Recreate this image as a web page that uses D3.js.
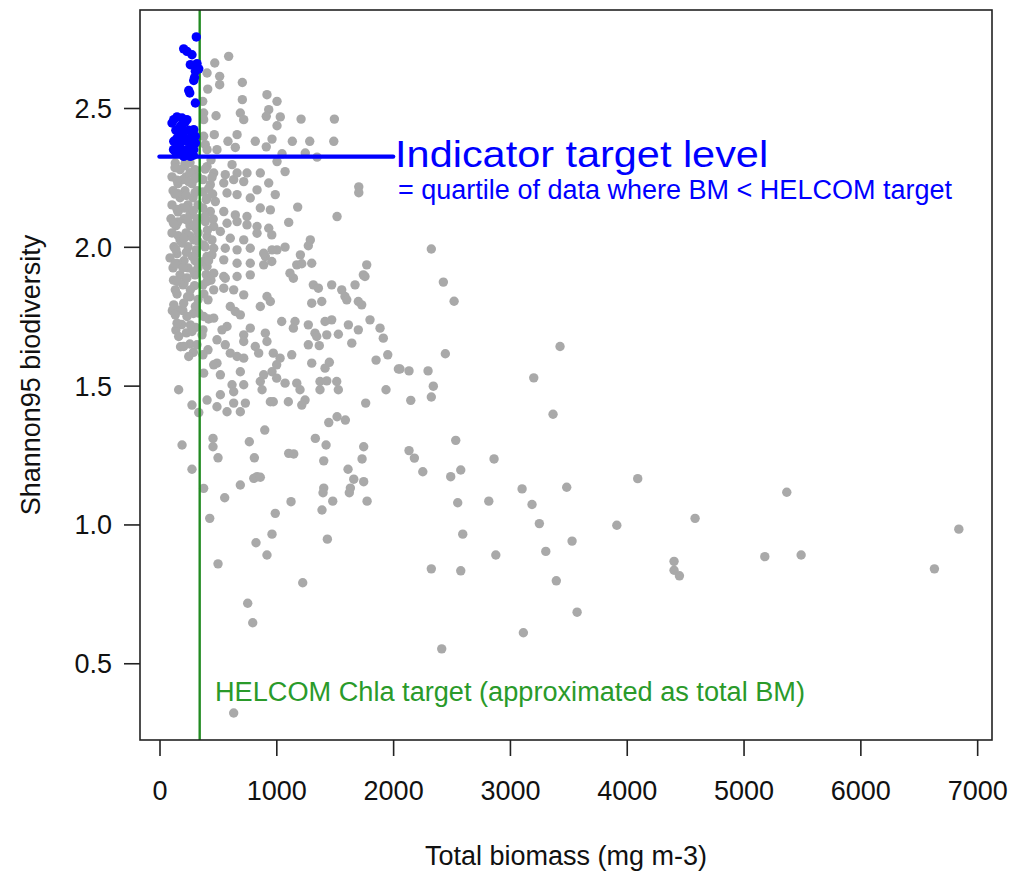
<!DOCTYPE html>
<html>
<head>
<meta charset="utf-8">
<script src="https://cdn.jsdelivr.net/npm/d3@7"></script>
<style>
  html, body { margin: 0; padding: 0; background: #ffffff; }
  svg { display: block; }
  text { font-family: "Liberation Sans", Arial, sans-serif; }
</style>
</head>
<body>
<svg id="chart" width="1020" height="875"></svg>
<script>
// ---------------- data ----------------
const xTicks = [0, 1000, 2000, 3000, 4000, 5000, 6000, 7000];
const yTicks = [0.5, 1.0, 1.5, 2.0, 2.5];
const xTickLabels = ["0", "1000", "2000", "3000", "4000", "5000", "6000", "7000"];
const yTickLabels = ["0.5", "1.0", "1.5", "2.0", "2.5"];

const helcomTarget = 344;       // total biomass (mg m-3)
const indicatorLevel = 2.325;   // Shannon95
const indicatorLineEnd = 2000;

const xLabel = "Total biomass (mg m-3)";
const yLabel = "Shannon95 biodiversity";
const indicatorTitle = "Indicator target level";
const indicatorNote = "= quartile of data where BM < HELCOM target";
const helcomNote = "HELCOM Chla target (approximated as total BM)";

// [total biomass, Shannon95] for all samples
const grayPoints = [
[592,2.686],[473,2.662],[407,2.626],[515,2.614],[515,2.584],[709,2.592],[413,2.568],[709,2.530],[920,2.548],[1006,2.524],[370,2.524],[935,2.494],[914,2.470],[1034,2.468],[1006,2.436],[692,2.482],[721,2.458],[484,2.472],[378,2.482],[378,2.458],[1212,2.460],[1497,2.460],[469,2.404],[664,2.404],[586,2.380],[649,2.358],[820,2.380],[914,2.360],[963,2.388],[1137,2.380],[1286,2.380],[1492,2.380],[378,2.398],[392,2.368],[407,2.350],[492,2.350],
[1049,2.335],[1248,2.338],[1349,2.323],[1006,2.307],[135,2.302],[1075,2.271],[863,2.266],[749,2.266],[621,2.296],[635,2.242],[721,2.235],[991,2.188],[1183,2.143],[1520,2.109],[1706,2.216],[1706,2.195],[1106,2.088],[1291,2.025],[1206,1.971],[1006,1.989],[906,1.965],
[407,2.289],[464,2.266],[563,2.260],[664,2.266],[935,2.230],[435,2.224],[550,2.230],[835,2.205],[407,2.176],[478,2.163],[578,2.194],[664,2.188],[777,2.176],[863,2.140],[949,2.133],[435,2.127],[550,2.127],[649,2.115],[749,2.109],[392,2.091],[464,2.073],[578,2.085],[664,2.091],[749,2.079],[835,2.073],[835,2.049],[935,2.067],[407,2.037],[521,2.055],[606,2.031],[721,2.025],[378,2.007],[464,1.995],[563,1.995],[664,1.989],[777,1.995],[892,1.977],[963,1.989],[407,1.965],[550,1.953],[664,1.941],[777,1.941],[892,1.935],[407,1.929],[464,1.905],[550,1.893],[664,1.893],[777,1.899],
[176,2.278],[304,2.278],[107,2.252],[227,2.252],[330,2.252],[158,2.227],[278,2.227],[116,2.202],[218,2.202],[321,2.202],[176,2.177],[287,2.177],[107,2.151],[244,2.151],[330,2.151],[158,2.126],[278,2.126],[98,2.101],[210,2.101],[321,2.101],[141,2.076],[261,2.076],[107,2.050],[227,2.050],[330,2.050],[176,2.025],[295,2.025],[124,2.000],[244,2.000],[150,1.975],[313,1.975],[210,1.950],[304,1.950],[116,1.924],[244,1.924],[176,1.899],[304,1.899],[261,2.303],
[218,2.292],[261,2.267],[201,2.242],[158,2.191],[193,2.140],[261,2.115],[158,2.090],[313,2.065],[261,2.039],[193,2.014],[313,1.989],[90,1.960],[158,1.939],[295,1.910],[201,1.863],[261,1.820],[176,1.773],
[372,2.242],[372,2.198],[441,2.313],[372,2.140],[449,2.025],[372,1.946],[449,1.971],[372,1.863],[415,1.809],[372,1.701],[415,1.629],[372,1.611],
[133,2.285],[218,2.300],[390,2.280],[449,2.250],[150,2.240],[250,2.235],[304,2.245],[420,2.210],[133,2.190],[230,2.185],[304,2.195],[400,2.170],[455,2.190],
[150,2.135],[218,2.140],[290,2.130],[390,2.110],[120,2.085],[240,2.095],[300,2.080],[410,2.060],[460,2.100],[160,2.040],[210,2.030],[330,2.020],[390,2.000],
[140,1.990],[230,1.980],[280,1.965],[420,1.950],[133,1.940],[200,1.925],[330,1.925],[400,1.900],[120,1.880],[210,1.870],[300,1.860],[440,1.880],
[150,1.830],[240,1.820],[330,1.810],[380,1.830],[110,1.770],[200,1.770],[290,1.760],[420,1.740],[190,1.720],[310,1.710],[140,1.700],[230,1.690],[180,1.640],[260,1.650],[290,1.620],
[150,1.875],[235,1.888],[135,1.845],[264,1.845],[122,1.791],[207,1.797],[307,1.785],[135,1.755],[235,1.749],[336,1.761],[150,1.725],[264,1.719],[164,1.677],[278,1.695],[207,1.641],[250,1.605],[321,1.647],[164,1.485],[278,1.430],[364,1.683],
[407,1.875],[464,1.845],[563,1.887],[635,1.845],[721,1.827],[550,1.851],[920,1.821],[863,1.785],[949,1.803],[606,1.785],[649,1.767],[378,1.749],[464,1.743],[578,1.713],[535,1.701],[692,1.755],[777,1.707],[721,1.683],[721,1.659],[906,1.689],[920,1.659],[492,1.665],[563,1.647],[606,1.617],[664,1.605],[721,1.599],[820,1.641],[849,1.617],[492,1.581],[464,1.575],[378,1.545],[521,1.539],[692,1.550],[892,1.539],[963,1.550],[863,1.515],[621,1.503],[721,1.503],[635,1.478],[878,1.485],[407,1.448],[521,1.467],[635,1.437],[735,1.437],[949,1.442],[578,1.406],[692,1.406],
[1146,1.887],[1317,1.863],[1360,1.851],[1474,1.863],[1560,1.845],[1674,1.863],[1759,1.893],[1303,1.797],[1389,1.803],[1588,1.821],[1603,1.809],[1702,1.803],[1731,1.791],[1046,1.731],[1160,1.731],[1146,1.707],[1274,1.719],[1417,1.731],[1474,1.737],[1617,1.719],[1702,1.701],[1802,1.737],[1888,1.707],[1916,1.671],[1331,1.689],[1346,1.677],[1432,1.683],[1531,1.685],[1646,1.653],[1274,1.647],[1368,1.644],[974,1.617],[1032,1.599],[1132,1.611],[1003,1.575],[1303,1.581],[1417,1.563],[1454,1.584],[1854,1.592],[1954,1.611],[2045,1.560],[1003,1.527],[1075,1.509],[1175,1.509],[1203,1.485],[1374,1.515],[1432,1.517],[1517,1.515],[1374,1.485],[1531,1.485],[1939,1.485],[974,1.442],[1103,1.442],[1246,1.448],[1218,1.430],[1765,1.437],
[961,2.043],[1274,2.004],[1075,1.999],[1175,1.935],[1218,1.939],[1303,1.941],[1774,1.935],[961,1.947],[1117,1.905],[1745,1.899],
[1449,1.367],[1520,1.388],[1591,1.376],[336,1.403],[492,1.424],[901,1.340],[458,1.310],[458,1.280],[193,1.286],[501,1.240],[769,1.298],[812,1.240],[1106,1.256],[1149,1.254],[1334,1.310],[1426,1.286],[1406,1.229],[1748,1.280],[1734,1.236],[1614,1.199],[1663,1.163],[1748,1.154],[278,1.199],[692,1.142],[807,1.166],[835,1.172],[863,1.170],[378,1.130],[1406,1.131],[1634,1.131],
[558,1.096],[430,1.022],[501,0.858],[826,0.934],[963,0.965],[920,0.890],[991,1.040],[1126,1.082],[1226,0.790],[1400,1.114],[1483,1.084],[1391,1.052],[1437,0.947],[1625,1.114],[1777,1.084],[755,0.716],[798,0.646],[635,0.321],
[2327,1.992],[2430,1.873],[2522,1.804],[2447,1.615],[3429,1.641],[2059,1.560],[2136,1.553],[2299,1.553],[2344,1.498],[2327,1.459],[2151,1.447],[3204,1.528],[3369,1.397],[2536,1.303],[2136,1.266],[2182,1.239],[2864,1.236],[2254,1.190],[2493,1.172],[2579,1.196],[3104,1.128],[3486,1.134],[4094,1.165],[2553,1.078],[2819,1.084],[3189,1.072],[3252,1.003],[3915,0.997],[4585,1.022],[2596,0.965],[3532,0.940],[2879,0.890],[3307,0.903],[2327,0.840],[2579,0.833],[4405,0.867],[4405,0.835],[4451,0.815],[3397,0.797],[3575,0.684],[3115,0.610],[2416,0.552],[5370,1.116],[5182,0.884],[5493,0.890],[6843,0.983],[6634,0.840]
];

// samples with BM < HELCOM target and diversity above the indicator level
const bluePoints = [
[315,2.756],[207,2.713],[235,2.704],[278,2.692],[264,2.656],[307,2.652],[336,2.641],[307,2.632],[293,2.599],[250,2.563],[259,2.554],[307,2.518],[122,2.458],[150,2.468],[193,2.464],[235,2.458],[107,2.446],[278,2.416],[293,2.422],[150,2.392],[122,2.380],[193,2.380],[264,2.392],[307,2.398],[307,2.374],[178,2.356],[235,2.350],[293,2.350],[135,2.344],[207,2.326],[264,2.326],[321,2.660],[300,2.610],[180,2.435],[220,2.450],[250,2.420],[160,2.370],[210,2.395],
[140,2.420],[170,2.410],[200,2.420],[240,2.380],[280,2.370],[160,2.340],[120,2.350],[230,2.335],[290,2.330],[195,2.440]
];

// ---------------- drawing ----------------
const W = 1020, H = 875;
const box = { left: 140, right: 992, top: 10, bottom: 740 };
const FONT = 27;

const svg = d3.select("#chart");
svg.append("rect").attr("width", W).attr("height", H).attr("fill", "#ffffff");

const x = d3.scaleLinear().domain([-167, 7127]).range([box.left, box.right]);
const y = d3.scaleLinear().domain([0.2236, 2.853]).range([box.bottom, box.top]);

// gray points
svg.append("g").selectAll("circle").data(grayPoints).join("circle")
  .attr("cx", d => x(d[0])).attr("cy", d => y(d[1])).attr("r", 4.7)
  .attr("fill", "#a9a9a9");

// HELCOM target vertical line
svg.append("line")
  .attr("x1", x(helcomTarget)).attr("x2", x(helcomTarget))
  .attr("y1", box.top).attr("y2", box.bottom)
  .attr("stroke", "#228b22").attr("stroke-width", 2.4);

// blue points
svg.append("g").selectAll("circle").data(bluePoints).join("circle")
  .attr("cx", d => x(d[0])).attr("cy", d => y(d[1])).attr("r", 4.7)
  .attr("fill", "#0000ff");

// indicator line
svg.append("line")
  .attr("x1", x(0)).attr("x2", x(indicatorLineEnd))
  .attr("y1", y(indicatorLevel)).attr("y2", y(indicatorLevel))
  .attr("stroke", "#0000ff").attr("stroke-width", 4.4).attr("stroke-linecap", "round");

// annotation texts
svg.append("text").attr("x", x(indicatorLineEnd) + 2).attr("y", 167)
  .attr("fill", "#0000ff").attr("font-size", 37)
  .attr("textLength", 373).attr("lengthAdjust", "spacingAndGlyphs")
  .text(indicatorTitle);
svg.append("text").attr("x", 398).attr("y", 199)
  .attr("fill", "#0000ff").attr("font-size", FONT)
  .attr("textLength", 554).attr("lengthAdjust", "spacingAndGlyphs")
  .text(indicatorNote);
svg.append("text").attr("x", 215).attr("y", 701)
  .attr("fill", "#2a9a2a").attr("font-size", FONT)
  .attr("textLength", 590).attr("lengthAdjust", "spacingAndGlyphs")
  .text(helcomNote);

// axes
const xAxis = d3.axisBottom(x).tickValues(xTicks)
  .tickFormat((d, i) => xTickLabels[i]).tickSize(16).tickSizeOuter(0).tickPadding(25);
const gx = svg.append("g").attr("transform", `translate(0,${box.bottom})`).call(xAxis);
gx.select(".domain").remove();
gx.selectAll("line").attr("stroke", "#222").attr("stroke-width", 1.6);
gx.selectAll("text").attr("font-size", FONT).attr("fill", "#111")
  .attr("font-family", "Liberation Sans, Arial, sans-serif");

const yAxis = d3.axisLeft(y).tickValues(yTicks)
  .tickFormat((d, i) => yTickLabels[i]).tickSize(16).tickSizeOuter(0).tickPadding(12);
const gy = svg.append("g").attr("transform", `translate(${box.left},0)`).call(yAxis);
gy.select(".domain").remove();
gy.selectAll("line").attr("stroke", "#222").attr("stroke-width", 1.6);
gy.selectAll("text").attr("font-size", FONT).attr("fill", "#111")
  .attr("font-family", "Liberation Sans, Arial, sans-serif")
  .attr("dy", "0.35em");

// plot box
svg.append("rect")
  .attr("x", box.left).attr("y", box.top)
  .attr("width", box.right - box.left).attr("height", box.bottom - box.top)
  .attr("fill", "none").attr("stroke", "#222").attr("stroke-width", 1.6);

// axis titles
svg.append("text").attr("x", (box.left + box.right) / 2).attr("y", 865)
  .attr("text-anchor", "middle").attr("font-size", FONT).attr("fill", "#111")
  .text(xLabel);
svg.append("text")
  .attr("transform", `translate(40,${(box.top + box.bottom) / 2}) rotate(-90)`)
  .attr("text-anchor", "middle").attr("font-size", FONT).attr("fill", "#111")
  .text(yLabel);
</script>
</body>
</html>
